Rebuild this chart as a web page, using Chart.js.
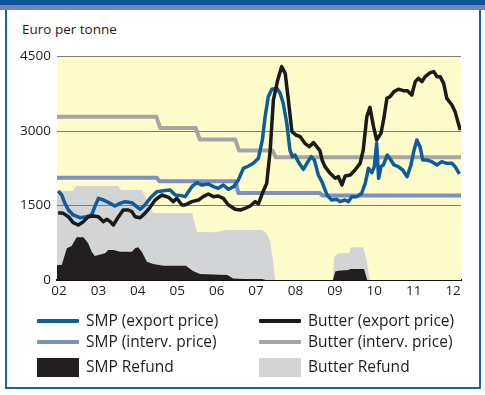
<!DOCTYPE html>
<html>
<head>
<meta charset="utf-8">
<script src="https://cdn.jsdelivr.net/npm/chart.js@4/dist/chart.umd.min.js"></script>
<style>
  html, body { margin: 0; padding: 0; background: #fff; }
  body { width: 485px; height: 395px; position: relative; overflow: hidden; font-family: "Open Sans", "Noto Sans", sans-serif; color: #1f1c1d; }
  #topbar { position: absolute; left: 0; top: 0; width: 485px; height: 5px; background: #0b5799; }
  #topstrip { position: absolute; left: 0; top: 5px; width: 485px; height: 5px; background: #7783b6; }
  #box { position: absolute; left: 5px; top: 10px; width: 472px; height: 377px; border-left: 2px solid #1d62a6; border-right: 2px solid #1d62a6; border-bottom: 2px solid #1d62a6; }
  #unit { position: absolute; left: 22px; top: 20px; font-size: 13.5px; line-height: 18px; }
  canvas { position: absolute; left: 0; top: 0; }
  .lg { position: absolute; font-size: 15.5px; line-height: 20px; white-space: nowrap; }
  .sw { position: absolute; }
</style>
</head>
<body>
<div id="topbar"></div>
<div id="topstrip"></div>
<div id="box"></div>
<div id="unit">Euro per tonne</div>
<canvas id="c" width="485" height="395"></canvas>
<div id="legend"></div>
<script>
// ---- data (x = year, fractional) ----
const years = [2002, 2003, 2004, 2005, 2006, 2007, 2008, 2009, 2010, 2011, 2012];
const yTicks = [0, 1500, 3000, 4500];

const smpExportX = [2001.98,2002.07,2002.15,2002.24,2002.36,2002.53,2002.70,2002.83,2002.91,2003.00,2003.13,2003.25,2003.42,2003.55,2003.68,2003.85,2003.97,2004.06,2004.18,2004.31,2004.48,2004.65,2004.82,2004.95,2005.07,2005.20,2005.37,2005.50,2005.62,2005.79,2005.92,2006.04,2006.17,2006.30,2006.43,2006.55,2006.68,2006.81,2006.93,2007.06,2007.16,2007.23,2007.31,2007.40,2007.53,2007.61,2007.69,2007.78,2007.86,2007.92,2007.99,2008.07,2008.20,2008.29,2008.40,2008.48,2008.58,2008.67,2008.80,2008.92,2009.05,2009.13,2009.26,2009.34,2009.43,2009.56,2009.68,2009.77,2009.85,2009.94,2010.00,2010.06,2010.11,2010.17,2010.23,2010.33,2010.42,2010.50,2010.61,2010.72,2010.83,2010.93,2011.01,2011.08,2011.16,2011.23,2011.33,2011.46,2011.59,2011.71,2011.84,2011.97,2012.05,2012.16];
const smpExportY = [1788,1708,1540,1406,1306,1252,1272,1306,1473,1641,1607,1560,1487,1540,1574,1554,1473,1420,1507,1641,1774,1794,1808,1708,1700,1674,1875,1955,1908,1929,1875,1842,1908,1822,1875,2009,2244,2290,2344,2445,2813,3281,3683,3831,3851,3751,3550,3148,2612,2478,2511,2377,2223,2344,2478,2411,2110,1975,1708,1607,1621,1574,1607,1574,1674,1674,1742,1942,2244,2157,2277,2746,2043,2277,2311,2511,2411,2311,2277,2210,2076,2311,2612,2813,2679,2411,2411,2377,2311,2377,2344,2344,2277,2130];

const butterExportX = [2001.98,2002.11,2002.24,2002.36,2002.49,2002.62,2002.74,2002.87,2003.00,2003.13,2003.21,2003.30,2003.38,2003.51,2003.63,2003.76,2003.85,2003.93,2004.06,2004.18,2004.31,2004.44,2004.61,2004.78,2004.90,2004.99,2005.12,2005.20,2005.37,2005.54,2005.66,2005.79,2005.92,2006.04,2006.17,2006.30,2006.47,2006.60,2006.72,2006.85,2006.98,2007.06,2007.16,2007.27,2007.36,2007.44,2007.55,2007.65,2007.74,2007.82,2007.91,2008.01,2008.12,2008.24,2008.35,2008.46,2008.54,2008.62,2008.68,2008.75,2008.88,2009.01,2009.09,2009.18,2009.26,2009.39,2009.51,2009.64,2009.72,2009.81,2009.89,2009.98,2010.06,2010.17,2010.25,2010.32,2010.40,2010.50,2010.61,2010.74,2010.84,2010.95,2011.04,2011.12,2011.21,2011.29,2011.42,2011.51,2011.59,2011.67,2011.76,2011.84,2011.97,2012.05,2012.18];
const butterExportY = [1353,1339,1272,1152,1105,1172,1272,1286,1272,1172,1219,1172,1105,1272,1406,1406,1373,1272,1252,1339,1460,1607,1708,1661,1574,1641,1507,1507,1574,1607,1674,1728,1674,1688,1641,1507,1420,1406,1440,1487,1574,1527,1742,1942,2612,3616,4018,4286,4152,3616,2980,2913,2880,2746,2679,2759,2679,2600,2400,2277,2143,2043,2076,1908,2089,2110,2210,2344,2612,3281,3469,3080,2813,2947,3281,3650,3683,3784,3831,3804,3804,3717,3985,4052,3985,4085,4166,4186,4085,4085,3951,3650,3516,3382,3014];

const smpIntervX = [2001.95,2004.48,2004.55,2006.48,2006.55,2008.62,2008.68,2012.2];
const smpIntervY = [2055,2055,1984,1984,1747,1747,1698,1698];

const butterIntervX = [2001.95,2004.47,2004.57,2005.47,2005.57,2006.47,2006.57,2007.42,2007.5,2012.2];
const butterIntervY = [3282,3282,3052,3052,2824,2824,2600,2600,2464,2464];

const smpRefundX = [2001.95,2002.07,2002.20,2002.32,2002.45,2002.62,2002.74,2002.83,2002.91,2003.00,2003.17,2003.25,2003.38,2003.55,2003.85,2003.93,2004.01,2004.10,2004.23,2004.39,2004.65,2005.22,2005.40,2005.58,2006.27,2006.42,2006.72,2007.15,2007.25,2008.95,2009.01,2009.08,2009.34,2009.39,2009.74,2009.82,2012.2];
const smpRefundY = [301,301,636,683,858,858,737,569,482,502,536,603,603,569,569,636,657,569,368,321,288,288,180,120,100,30,20,20,0,0,170,187,200,221,221,0,0];

const butterRefundX = [2001.95,2002.36,2002.43,2003.50,2003.58,2004.11,2004.23,2004.39,2005.38,2005.50,2005.96,2006.26,2007.15,2007.25,2007.35,2007.43,2007.48,2008.95,2008.98,2009.08,2009.36,2009.41,2009.72,2009.79,2009.89,2012.2];
const butterRefundY = [1790,1790,1888,1888,1810,1810,1600,1345,1345,965,960,1005,1005,960,800,400,0,0,450,536,540,657,657,450,0,0];

const pts = (xs, ys) => xs.map((x, i) => ({ x: x, y: ys[i] }));

const COLORS = {
  smpExport: '#0d5c9c',
  butterExport: '#1b1a1a',
  smpInterv: '#7f8fc2',
  butterInterv: '#a5a5a5',
  smpRefund: '#231f20',
  butterRefund: '#d3d4d6',
  plotBg: '#fffccc',
  grid: '#7d7d7d'
};

const datasets = [
  { label: 'SMP (export price)', data: pts(smpExportX, smpExportY), borderColor: COLORS.smpExport, borderWidth: 3.5, order: 1, kind: 'line' },
  { label: 'Butter (export price)', data: pts(butterExportX, butterExportY), borderColor: COLORS.butterExport, borderWidth: 3.5, order: 0, kind: 'line' },
  { label: 'SMP (interv. price)', data: pts(smpIntervX, smpIntervY), borderColor: COLORS.smpInterv, borderWidth: 4, order: 3, kind: 'line', borderCapStyle: 'butt' },
  { label: 'Butter (interv. price)', data: pts(butterIntervX, butterIntervY), borderColor: COLORS.butterInterv, borderWidth: 4, order: 2, kind: 'line', borderCapStyle: 'butt' },
  { label: 'SMP Refund', data: pts(smpRefundX, smpRefundY), backgroundColor: COLORS.smpRefund, borderWidth: 0, fill: 'origin', order: 4, kind: 'box' },
  { label: 'Butter Refund', data: pts(butterRefundX, butterRefundY), backgroundColor: COLORS.butterRefund, borderWidth: 0, fill: 'origin', order: 5, kind: 'box' }
];
datasets.forEach(d => { d.pointRadius = 0; d.tension = 0; d.borderJoinStyle = 'round'; if (d.kind === 'box') d.borderColor = 'rgba(0,0,0,0)'; });

const PLOT = { left: 57, top: 56, right: 461, bottom: 280 };

const plotBg = {
  id: 'plotBg',
  beforeDatasetsDraw(chart) {
    const { ctx, chartArea: a } = chart;
    ctx.save();
    ctx.fillStyle = COLORS.plotBg;
    ctx.fillRect(a.left, a.top, a.right - a.left, a.bottom - a.top);
    ctx.restore();
  },
  afterDatasetDraw(chart, args) {
    // horizontal gridlines above the refund areas, below the price lines
    if (chart.data.datasets[args.index].label !== 'SMP Refund') return;
    const { ctx, chartArea: a, scales } = chart;
    ctx.save();
    ctx.strokeStyle = COLORS.grid;
    ctx.lineWidth = 1;
    yTicks.forEach(v => {
      if (v === 0) return;
      const y = Math.round(scales.y.getPixelForValue(v)) + 0.5;
      ctx.beginPath();
      ctx.moveTo(a.left, y);
      ctx.lineTo(a.right, y);
      ctx.stroke();
    });
    ctx.restore();
  }
};

const tickFont = { family: '"Open Sans", "Noto Sans", sans-serif', size: 13.5 };

const chart = new Chart(document.getElementById('c'), {
  type: 'line',
  data: { datasets },
  options: {
    responsive: false,
    devicePixelRatio: 1,
    animation: false,
    layout: { padding: { left: 0, top: PLOT.top, right: 485 - PLOT.right, bottom: 0 } },
    plugins: { legend: { display: false }, tooltip: { enabled: false } },
    scales: {
      x: {
        type: 'linear',
        min: 2001.95,
        max: 2012.2,
        z: 1,
        afterBuildTicks(s) { s.ticks = years.map(v => ({ value: v })); },
        afterFit(s) { s.height = 395 - PLOT.bottom; },
        ticks: {
          autoSkip: false, maxRotation: 0, padding: 3,
          color: '#1f1c1d', font: tickFont,
          callback: v => String(v).slice(2)
        },
        grid: { display: false, drawTicks: false },
        border: { display: true, color: '#111', width: 2 }
      },
      y: {
        min: 0, max: 4500,
        afterBuildTicks(s) { s.ticks = yTicks.map(v => ({ value: v })); },
        afterFit(s) { s.width = PLOT.left; },
        ticks: {
          padding: 6, color: '#1f1c1d', font: tickFont,
          callback: v => String(v)
        },
        grid: { display: false, drawTicks: false },
        border: { display: false }
      }
    }
  },
  plugins: [plotBg]
});

// ---- HTML legend built from the chart datasets ----
const legendLayout = [
  { label: 'SMP (export price)', col: 0, row: 0 },
  { label: 'Butter (export price)', col: 1, row: 0 },
  { label: 'SMP (interv. price)', col: 0, row: 1 },
  { label: 'Butter (interv. price)', col: 1, row: 1 },
  { label: 'SMP Refund', col: 0, row: 2 },
  { label: 'Butter Refund', col: 1, row: 2 }
];
const colX = [37, 259];
const rowY = [321, 342, 367];
const legend = document.getElementById('legend');
legendLayout.forEach(item => {
  const ds = datasets.find(d => d.label === item.label);
  const sw = document.createElement('div');
  sw.className = 'sw';
  const x0 = colX[item.col], yc = rowY[item.row];
  if (ds.kind === 'line') {
    Object.assign(sw.style, { left: x0 + 'px', top: (yc - 2) + 'px', width: '42px', height: '4px', background: ds.borderColor, borderRadius: '1px' });
  } else {
    Object.assign(sw.style, { left: x0 + 'px', top: (yc - 9) + 'px', width: '42px', height: '19px', background: ds.backgroundColor });
  }
  legend.appendChild(sw);
  const t = document.createElement('div');
  t.className = 'lg';
  t.textContent = ds.label;
  t.style.left = (x0 + 49) + 'px';
  t.style.top = (yc - 11) + 'px';
  legend.appendChild(t);
});
</script>
</body>
</html>
